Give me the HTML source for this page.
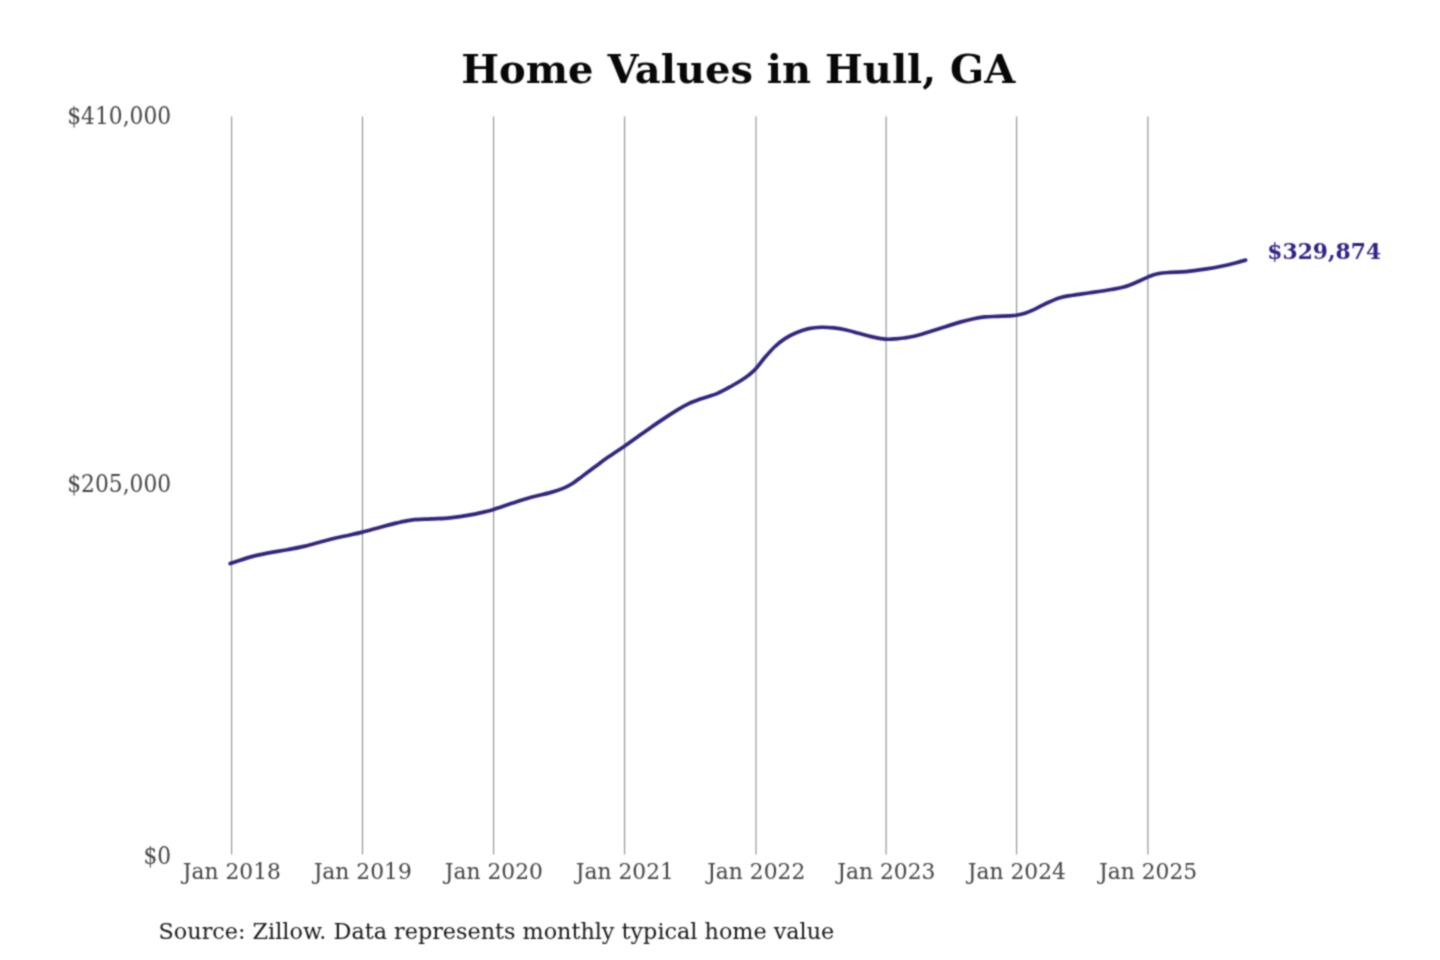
<!DOCTYPE html>
<html lang="en">
<head>
<meta charset="utf-8">
<title>Home Values in Hull, GA</title>
<style>
html,body{margin:0;padding:0;background:#fff;}
body{width:1440px;height:960px;overflow:hidden;font-family:"DejaVu Serif","Liberation Serif",serif;}
svg{display:block;position:absolute;left:0;top:0;}
svg text{font-family:"DejaVu Serif","Liberation Serif",serif;}
.grid line{stroke:#8e8e8e;stroke-width:1.1;}
.xl text{font-size:21.8px;fill:#454545;text-anchor:middle;}
.yl text{font-size:21.8px;fill:#454545;text-anchor:end;}
.title{font-size:40px;font-weight:bold;fill:#080808;text-anchor:middle;}
.src{font-size:22.3px;fill:#1a1a1a;}
.val{font-size:21.8px;font-weight:bold;fill:#332288;}
.curve{fill:none;stroke:#30267f;stroke-width:3.7;stroke-linecap:round;stroke-linejoin:round;}
</style>
</head>
<body>
<svg width="1440" height="960" viewBox="0 0 1440 960">
<defs>
<filter id="soft" x="0" y="0" width="1440" height="960" filterUnits="userSpaceOnUse" color-interpolation-filters="sRGB">
<feConvolveMatrix order="3" kernelMatrix="1 2 1 2 6 2 1 2 1" divisor="18" edgeMode="duplicate"/>
</filter>
</defs>
<rect width="1440" height="960" fill="#ffffff"/>
<g filter="url(#soft)">
<text class="title" transform="translate(738.3,83.2) scale(1,0.962)">Home Values in Hull, GA</text>
<g class="grid">
<line x1="231.6" y1="116.6" x2="231.6" y2="854.4" />
<line x1="362.5" y1="116.6" x2="362.5" y2="854.4" />
<line x1="493.6" y1="116.6" x2="493.6" y2="854.4" />
<line x1="624.6" y1="116.6" x2="624.6" y2="854.4" />
<line x1="756.0" y1="116.6" x2="756.0" y2="854.4" />
<line x1="886.1" y1="116.6" x2="886.1" y2="854.4" />
<line x1="1016.6" y1="116.6" x2="1016.6" y2="854.4" />
<line x1="1147.9" y1="116.6" x2="1147.9" y2="854.4" />
</g>
<g class="yl">
<text transform="translate(171.2,124.2) scale(1,1.085)">$410,000</text>
<text transform="translate(171.2,492.5) scale(1,1.085)">$205,000</text>
<text transform="translate(171.2,863.6) scale(1,1.085)">$0</text>
</g>
<g class="xl">
<text transform="translate(231.8,879.3) scale(1,1.06)">Jan 2018</text>
<text transform="translate(362.7,879.3) scale(1,1.06)">Jan 2019</text>
<text transform="translate(493.8,879.3) scale(1,1.06)">Jan 2020</text>
<text transform="translate(624.8,879.3) scale(1,1.06)">Jan 2021</text>
<text transform="translate(756.2,879.3) scale(1,1.06)">Jan 2022</text>
<text transform="translate(886.3,879.3) scale(1,1.06)">Jan 2023</text>
<text transform="translate(1016.8,879.3) scale(1,1.06)">Jan 2024</text>
<text transform="translate(1148.1,879.3) scale(1,1.06)">Jan 2025</text>
</g>
<path class="curve" d="M230.20,563.60 C233.50,562.52 243.57,558.88 250.00,557.10 C256.43,555.32 262.50,554.13 268.75,552.90 C275.00,551.67 281.46,550.83 287.50,549.70 C293.54,548.57 298.75,547.60 305.00,546.10 C311.25,544.60 318.54,542.33 325.00,540.70 C331.46,539.07 337.50,537.73 343.75,536.30 C350.00,534.87 356.25,533.66 362.50,532.10 C368.75,530.54 375.00,528.58 381.25,526.95 C387.50,525.32 394.79,523.47 400.00,522.30 C405.21,521.12 407.29,520.47 412.50,519.90 C417.71,519.33 425.00,519.25 431.25,518.90 C437.50,518.55 443.75,518.43 450.00,517.80 C456.25,517.17 463.54,515.97 468.75,515.10 C473.96,514.23 477.08,513.55 481.25,512.60 C485.42,511.65 488.54,510.98 493.75,509.40 C498.96,507.82 506.25,505.12 512.50,503.10 C518.75,501.08 525.00,499.05 531.25,497.30 C537.50,495.55 544.79,494.05 550.00,492.60 C555.21,491.15 558.75,490.12 562.50,488.60 C566.25,487.08 569.17,485.58 572.50,483.50 C575.83,481.42 578.75,478.90 582.50,476.12 C586.25,473.34 590.83,469.89 595.00,466.80 C599.17,463.71 602.54,461.07 607.50,457.60 C612.46,454.13 619.54,449.60 624.75,446.00 C629.96,442.40 633.29,439.85 638.75,436.00 C644.21,432.15 651.25,427.13 657.50,422.90 C663.75,418.67 671.04,413.80 676.25,410.60 C681.46,407.40 684.58,405.68 688.75,403.70 C692.92,401.72 696.46,400.46 701.25,398.74 C706.04,397.02 712.29,395.61 717.50,393.40 C722.71,391.19 728.58,387.65 732.50,385.50 C736.42,383.35 738.29,382.23 741.00,380.50 C743.71,378.77 746.25,377.10 748.75,375.10 C751.25,373.10 753.29,371.49 756.00,368.52 C758.71,365.55 761.83,360.97 765.00,357.30 C768.17,353.63 771.67,349.61 775.00,346.49 C778.33,343.37 781.46,340.88 785.00,338.59 C788.54,336.30 792.29,334.43 796.25,332.78 C800.21,331.13 804.58,329.59 808.75,328.67 C812.92,327.75 817.08,327.40 821.25,327.26 C825.42,327.12 829.58,327.40 833.75,327.85 C837.92,328.30 842.08,329.05 846.25,329.95 C850.42,330.85 854.58,332.13 858.75,333.24 C862.92,334.35 866.77,335.65 871.25,336.63 C875.73,337.61 881.43,338.76 885.60,339.12 C889.77,339.48 892.39,339.11 896.25,338.81 C900.11,338.51 904.38,338.10 908.75,337.30 C913.12,336.50 917.08,335.55 922.50,334.00 C927.92,332.45 935.00,329.98 941.25,328.00 C947.50,326.02 954.79,323.65 960.00,322.15 C965.21,320.65 968.33,319.88 972.50,319.00 C976.67,318.12 980.83,317.33 985.00,316.89 C989.17,316.45 993.33,316.56 997.50,316.38 C1001.67,316.19 1006.83,315.96 1010.00,315.78 C1013.17,315.59 1014.00,315.69 1016.50,315.27 C1019.00,314.85 1021.92,314.29 1025.00,313.27 C1028.08,312.25 1031.25,310.91 1035.00,309.16 C1038.75,307.41 1043.33,304.66 1047.50,302.76 C1051.67,300.86 1055.83,299.00 1060.00,297.75 C1064.17,296.50 1067.50,296.08 1072.50,295.24 C1077.50,294.40 1083.54,293.69 1090.00,292.73 C1096.46,291.77 1105.62,290.43 1111.25,289.47 C1116.88,288.51 1119.58,288.15 1123.75,286.96 C1127.92,285.77 1132.25,283.95 1136.25,282.31 C1140.25,280.67 1144.21,278.53 1147.75,277.10 C1151.29,275.67 1153.79,274.53 1157.50,273.75 C1161.21,272.97 1165.21,272.74 1170.00,272.40 C1174.79,272.06 1180.42,272.23 1186.25,271.70 C1192.08,271.17 1198.75,270.19 1205.00,269.20 C1211.25,268.21 1218.54,266.82 1223.75,265.74 C1228.96,264.66 1232.61,263.64 1236.25,262.70 C1239.89,261.76 1244.04,260.53 1245.60,260.10"/>
<text class="val" x="1267.3" y="258.9">$329,874</text>
<text class="src" x="158.6" y="938.6">Source: Zillow. Data represents monthly typical home value</text>
</g>
</svg>
</body>
</html>
